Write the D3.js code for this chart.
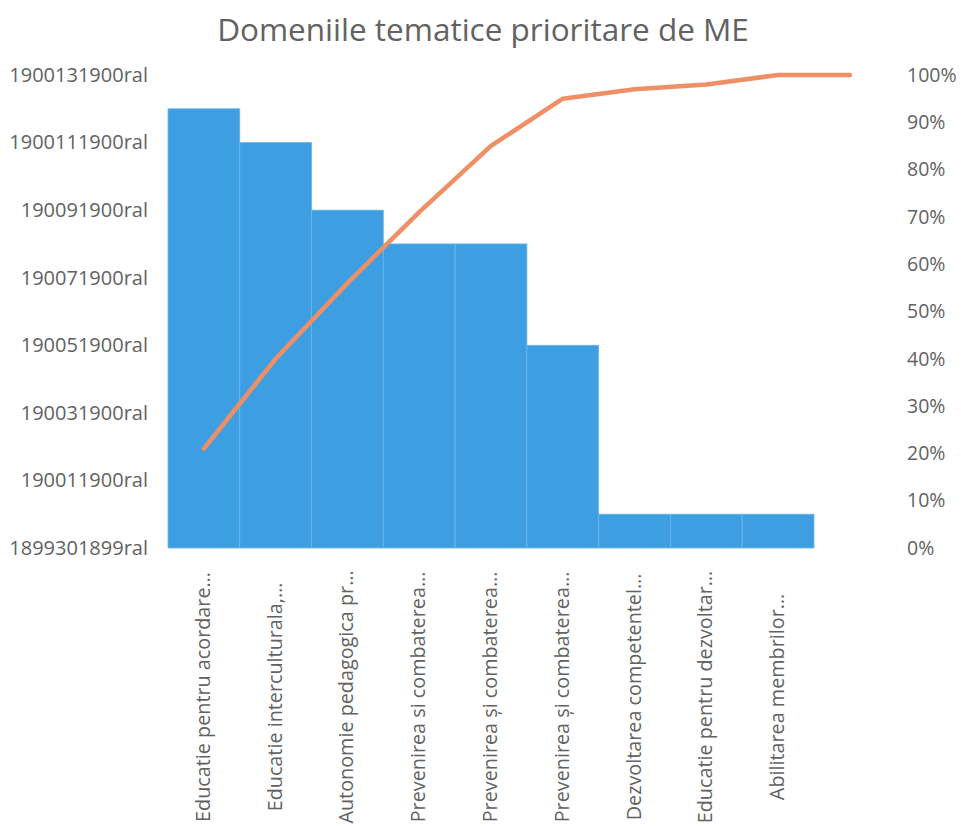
<!DOCTYPE html>
<html><head><meta charset="utf-8">
<script src="https://cdn.jsdelivr.net/npm/d3@7"></script>
<style>body{margin:0;background:#fff}svg{display:block}</style>
</head><body>
<svg id="chart" width="961" height="826"></svg>
<script>
const categories = ["Educatie pentru acordare…","Educatie interculturala,…","Autonomie pedagogica pr…","Prevenirea si combaterea…","Prevenirea și combaterea…","Prevenirea și combaterea…","Dezvoltarea competentel…","Educatie pentru dezvoltar…","Abilitarea membrilor…"];
const counts = [13,12,10,9,9,6,1,1,1];
const cumulativePct = [21,40,56,71,85,95,97,98,100,100];
const leftTickValues = [0,2,4,6,8,10,12,14];
const leftTickLabels = ["1899301899ral","190011900ral","190031900ral","190051900ral","190071900ral","190091900ral","1900111900ral","1900131900ral"];
const rightTickValues = [0,10,20,30,40,50,60,70,80,90,100];
const title = "Domeniile tematice prioritare de ME";

const svg = d3.select("#chart");
const font = "'Open Sans', sans-serif";
const gray = "#626262";
const plot = {left:168, right:814, top:75, bottom:548};

const x = d3.scaleBand().domain(d3.range(categories.length)).range([plot.left, plot.right]).padding(0);
const bw = x.bandwidth();
const xIdx = d3.scaleLinear().domain([0, categories.length]).range([plot.left, plot.right]);
const y = d3.scaleLinear().domain([0,14]).range([plot.bottom, plot.top]);
const yp = d3.scaleLinear().domain([0,100]).range([plot.bottom, plot.top]);

svg.append("text").attr("x",483).attr("y",41).attr("text-anchor","middle")
  .attr("font-family",font).attr("font-size",31.5).attr("fill",gray).text(title);

// bars
svg.append("g").selectAll("rect").data(counts).join("rect")
  .attr("x",(d,i)=>x(i)).attr("width",bw)
  .attr("y",d=>y(d)).attr("height",d=>y(0)-y(d))
  .attr("fill","#3d9fe2").attr("stroke","#6ab6ec").attr("stroke-width",0.8);

// left axis
const yAxis = d3.axisLeft(y).tickValues(leftTickValues).tickSize(0).tickPadding(0)
  .tickFormat((d,i)=>leftTickLabels[i]);
const gl = svg.append("g").attr("transform","translate(148,0)").call(yAxis);
gl.select(".domain").remove();
gl.selectAll("text").attr("font-family",font).attr("font-size",20).attr("fill",gray);

// right axis
const rAxis = d3.axisRight(yp).tickValues(rightTickValues).tickSize(0).tickPadding(0)
  .tickFormat(d=>d+"%");
const gr = svg.append("g").attr("transform","translate(907,0)").call(rAxis);
gr.select(".domain").remove();
gr.selectAll("text").attr("font-family",font).attr("font-size",19.5).attr("fill",gray);

// category labels (centred along the rotated axis)
const gx = svg.append("g");
gx.selectAll("text").data(categories).join("text")
  .attr("transform",(d,i)=>`translate(${x(i)+bw/2+6},697) rotate(-90)`)
  .attr("text-anchor","middle").attr("font-family",font).attr("font-size",19.8)
  .attr("fill",gray).text(d=>d);

// cumulative line
const line = d3.line().x((d,i)=>xIdx(i+0.5)).y(d=>yp(d));
svg.append("path").datum(cumulativePct).attr("d",line)
  .attr("fill","none").attr("stroke","#ee8f66").attr("stroke-width",4.5)
  .attr("stroke-linejoin","round").attr("stroke-linecap","round");
</script>
</body></html>
